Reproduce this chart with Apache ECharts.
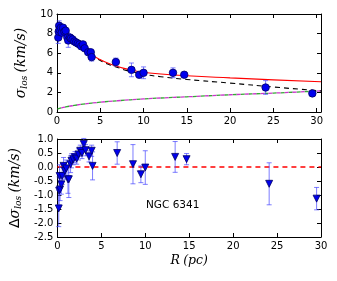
<!DOCTYPE html>
<html><head><meta charset="utf-8">
<script src="https://cdn.jsdelivr.net/npm/echarts@6/dist/echarts.min.js"></script>
<style>html,body{margin:0;padding:0;background:#fff}#c{width:337px;height:281px}</style>
</head><body><div id="c"></div>
<script>
// Observed dispersion (x in pc, sigma, error)
const obsR   = [0.15,0.2,0.25,0.3,0.45,0.55,0.7,0.85,1.0,1.2,1.3,1.5,1.6,1.8,2.0,2.2,2.4,2.6,2.8,3.0,3.2,3.6,3.9,4.0,6.8,8.6,9.5,10.0,13.4,14.7,24.1,29.5];
const obsSig = [7.6,8.2,8.8,8.4,8.6,8.1,8.6,8.2,8.3,7.6,7.3,7.6,7.5,7.4,7.2,7.1,7.0,6.9,6.7,6.9,6.5,6.1,6.1,5.6,5.1,4.3,3.8,4.0,4.0,3.8,2.5,1.9];
const obsErr = [0.6,0.5,0.5,0.4,0.3,0.4,0.3,0.3,0.3,0.5,0.7,0.3,0.3,0.2,0.2,0.2,0.2,0.2,0.2,0.2,0.2,0.2,0.2,0.4,0.4,0.7,0.3,0.6,0.5,0.25,0.7,0.3];
// Residuals
const resR   = obsR;
const resVal = [-1.48,-0.85,-0.32,-0.8,-0.62,-0.32,0.04,-0.14,-0.05,-0.44,-0.44,0.1,0.22,0.28,0.35,0.3,0.45,0.58,0.5,0.82,0.6,0.38,0.58,0.04,0.5,0.1,-0.26,-0.02,0.36,0.28,-0.6,-1.13];
const resErr = [0.65,0.5,0.4,0.4,0.35,0.3,0.3,0.3,0.3,0.5,0.65,0.3,0.25,0.2,0.2,0.2,0.2,0.2,0.2,0.2,0.2,0.2,0.2,0.5,0.4,0.7,0.3,0.6,0.55,0.2,0.75,0.4];
// Model curves
const redX = [0.05,0.5,1,2,3,4,5,6,7,8,10,12,15,20,25,30.5];
const redY = [9.0,8.75,8.3,7.4,6.55,5.85,5.35,4.95,4.65,4.4,4.05,3.88,3.7,3.48,3.28,3.08];
const blkX = [0.05,0.5,1,2,3,4,5,6,7,8,10,12,15,20,25,30.5];
const blkY = [8.95,8.7,8.25,7.35,6.5,5.8,5.25,4.85,4.55,4.25,3.85,3.6,3.32,2.95,2.55,2.15];
const grnX = [0.05,0.5,1,2,3,5,7,10,12,15,20,25,30.5];
const grnY = [0.3,0.42,0.52,0.67,0.8,1.0,1.15,1.33,1.43,1.55,1.76,1.93,2.15];
const zeroX = [0,30];
const zeroY = [0,0];
const topTicks = [0,2,4,6,8,10];
const botTicks = [-2.5,-2.0,-1.5,-1.0,-0.5,0.0,0.5,1.0];

const zip = (a,b)=>a.map((v,i)=>[v,b[i]]);
const font = 'DejaVu Sans';
const errColor = 'rgba(70,70,255,0.7)';

function errSeries(xi, yi, xs, ys, es){
  return {
    type:'custom', xAxisIndex:xi, yAxisIndex:yi, z:3,
    data: xs.map((x,i)=>[x, ys[i]-es[i], ys[i]+es[i]]),
    renderItem:(params, api)=>{
      const lo = api.coord([api.value(0), api.value(1)]);
      const hi = api.coord([api.value(0), api.value(2)]);
      const c = 2.5;
      const st = {stroke: errColor, lineWidth: 1};
      return {type:'group', children:[
        {type:'line', shape:{x1:lo[0],y1:lo[1],x2:hi[0],y2:hi[1]}, style:st},
        {type:'line', shape:{x1:lo[0]-c,y1:lo[1],x2:lo[0]+c,y2:lo[1]}, style:st},
        {type:'line', shape:{x1:hi[0]-c,y1:hi[1],x2:hi[0]+c,y2:hi[1]}, style:st}
      ]};
    }
  };
}

const axisBase = {
  axisLine:{show:true, onZero:false, lineStyle:{color:'#000', width:1}},
  axisTick:{show:true, inside:true, length:4, lineStyle:{color:'#000'}},
  splitLine:{show:false},
  axisLabel:{color:'#000', fontFamily:font, fontSize:10}
};
const noLab = {axisLabel:{show:false}};
const richI = {fontFamily:'DejaVu Serif', fontStyle:'italic', fontSize:14, color:'#000'};
const richS = {fontFamily:'DejaVu Serif', fontStyle:'italic', fontSize:9, color:'#000', verticalAlign:'bottom', padding:[7,0,0,0]};

const chart = echarts.init(document.getElementById('c'), null, {renderer:'canvas'});
chart.setOption({
  animation:false,
  backgroundColor:'#fff',
  grid:[
    {left:57, top:14, width:264, height:98},
    {left:57, top:139, width:264, height:98}
  ],
  xAxis:[
    Object.assign({}, axisBase, {type:'value', gridIndex:0, min:0, max:30.5, interval:5, position:'bottom',
      axisLabel:Object.assign({}, axisBase.axisLabel, {margin:4, formatter:v=>(v%5===0?String(v):'')})}),
    Object.assign({}, axisBase, {type:'value', gridIndex:1, min:0, max:30, interval:5, position:'bottom',
      axisLabel:Object.assign({}, axisBase.axisLabel, {margin:4}),
      name:'{i|R} {i|(pc)}', nameLocation:'middle', nameGap:17,
      nameTextStyle:{rich:{i:{fontFamily:'DejaVu Serif', fontStyle:'italic', fontSize:12.5, color:'#000'}}}}),
    Object.assign({}, axisBase, noLab, {type:'value', gridIndex:0, min:0, max:30.5, interval:5, position:'top'}),
    Object.assign({}, axisBase, noLab, {type:'value', gridIndex:1, min:0, max:30, interval:5, position:'top'})
  ],
  yAxis:[
    Object.assign({}, axisBase, {type:'value', gridIndex:0, min:0, max:10, interval:2, position:'left',
      axisLabel:Object.assign({}, axisBase.axisLabel, {margin:4, formatter:v=>topTicks.includes(v)?String(v):''}),
      name:'{i|σ}{s|los} {i|(km/s)}', nameLocation:'middle', nameGap:14, nameRotate:90,
      nameTextStyle:{rich:{i:richI, s:richS}}}),
    Object.assign({}, axisBase, {type:'value', gridIndex:1, min:-2.5, max:1.0, interval:0.5, position:'left',
      axisLabel:Object.assign({}, axisBase.axisLabel, {margin:4, formatter:v=>v.toFixed(1)}),
      name:'{n|Δ}{i|σ}{s|los} {i|(km/s)}', nameLocation:'middle', nameGap:24, nameRotate:90,
      nameTextStyle:{rich:{n:{fontFamily:'DejaVu Sans', fontSize:14, color:'#000'}, i:richI, s:richS}}}),
    Object.assign({}, axisBase, noLab, {type:'value', gridIndex:0, min:0, max:10, interval:2, position:'right'}),
    Object.assign({}, axisBase, noLab, {type:'value', gridIndex:1, min:-2.5, max:1.0, interval:0.5, position:'right'})
  ],
  graphic:[
    {type:'text', left:146, top:200, style:{text:'NGC 6341', fontFamily:font, fontSize:10.5, fill:'#000'}}
  ],
  series:[
    {type:'line', xAxisIndex:0, yAxisIndex:0, data:zip(grnX,grnY), smooth:true, showSymbol:false, z:2,
     lineStyle:{color:'#33aa33', width:1.3, type:[4,4]}},
    {type:'line', xAxisIndex:0, yAxisIndex:0, data:zip(grnX,grnY), smooth:true, showSymbol:false, z:2,
     lineStyle:{color:'#cc33cc', width:1.3, type:[4,4], dashOffset:4}},
    {type:'line', xAxisIndex:0, yAxisIndex:0, data:zip(blkX,blkY), smooth:true, showSymbol:false, z:2,
     lineStyle:{color:'#000', width:1.1, type:[5,4]}},
    {type:'line', xAxisIndex:0, yAxisIndex:0, data:zip(redX,redY), smooth:true, showSymbol:false, z:2,
     lineStyle:{color:'#ff0000', width:1.1}},
    errSeries(0,0,obsR,obsSig,obsErr),
    {type:'scatter', xAxisIndex:0, yAxisIndex:0, data:zip(obsR,obsSig), symbol:'circle', symbolSize:7.5, z:4,
     itemStyle:{color:'#0000ee', borderColor:'#000066', borderWidth:0.8, opacity:1}},
    {type:'line', xAxisIndex:1, yAxisIndex:1, data:zip(zeroX,zeroY), showSymbol:false, z:2,
     lineStyle:{color:'#ff0000', width:1.5, type:[5,4]}},
    errSeries(1,1,resR,resVal,resErr),
    {type:'scatter', xAxisIndex:1, yAxisIndex:1, data:zip(resR,resVal), symbol:'triangle', symbolRotate:180, symbolSize:7, z:4,
     itemStyle:{color:'#0000ee', borderColor:'#000066', borderWidth:0.8, opacity:1}}
  ]
});
</script></body></html>
